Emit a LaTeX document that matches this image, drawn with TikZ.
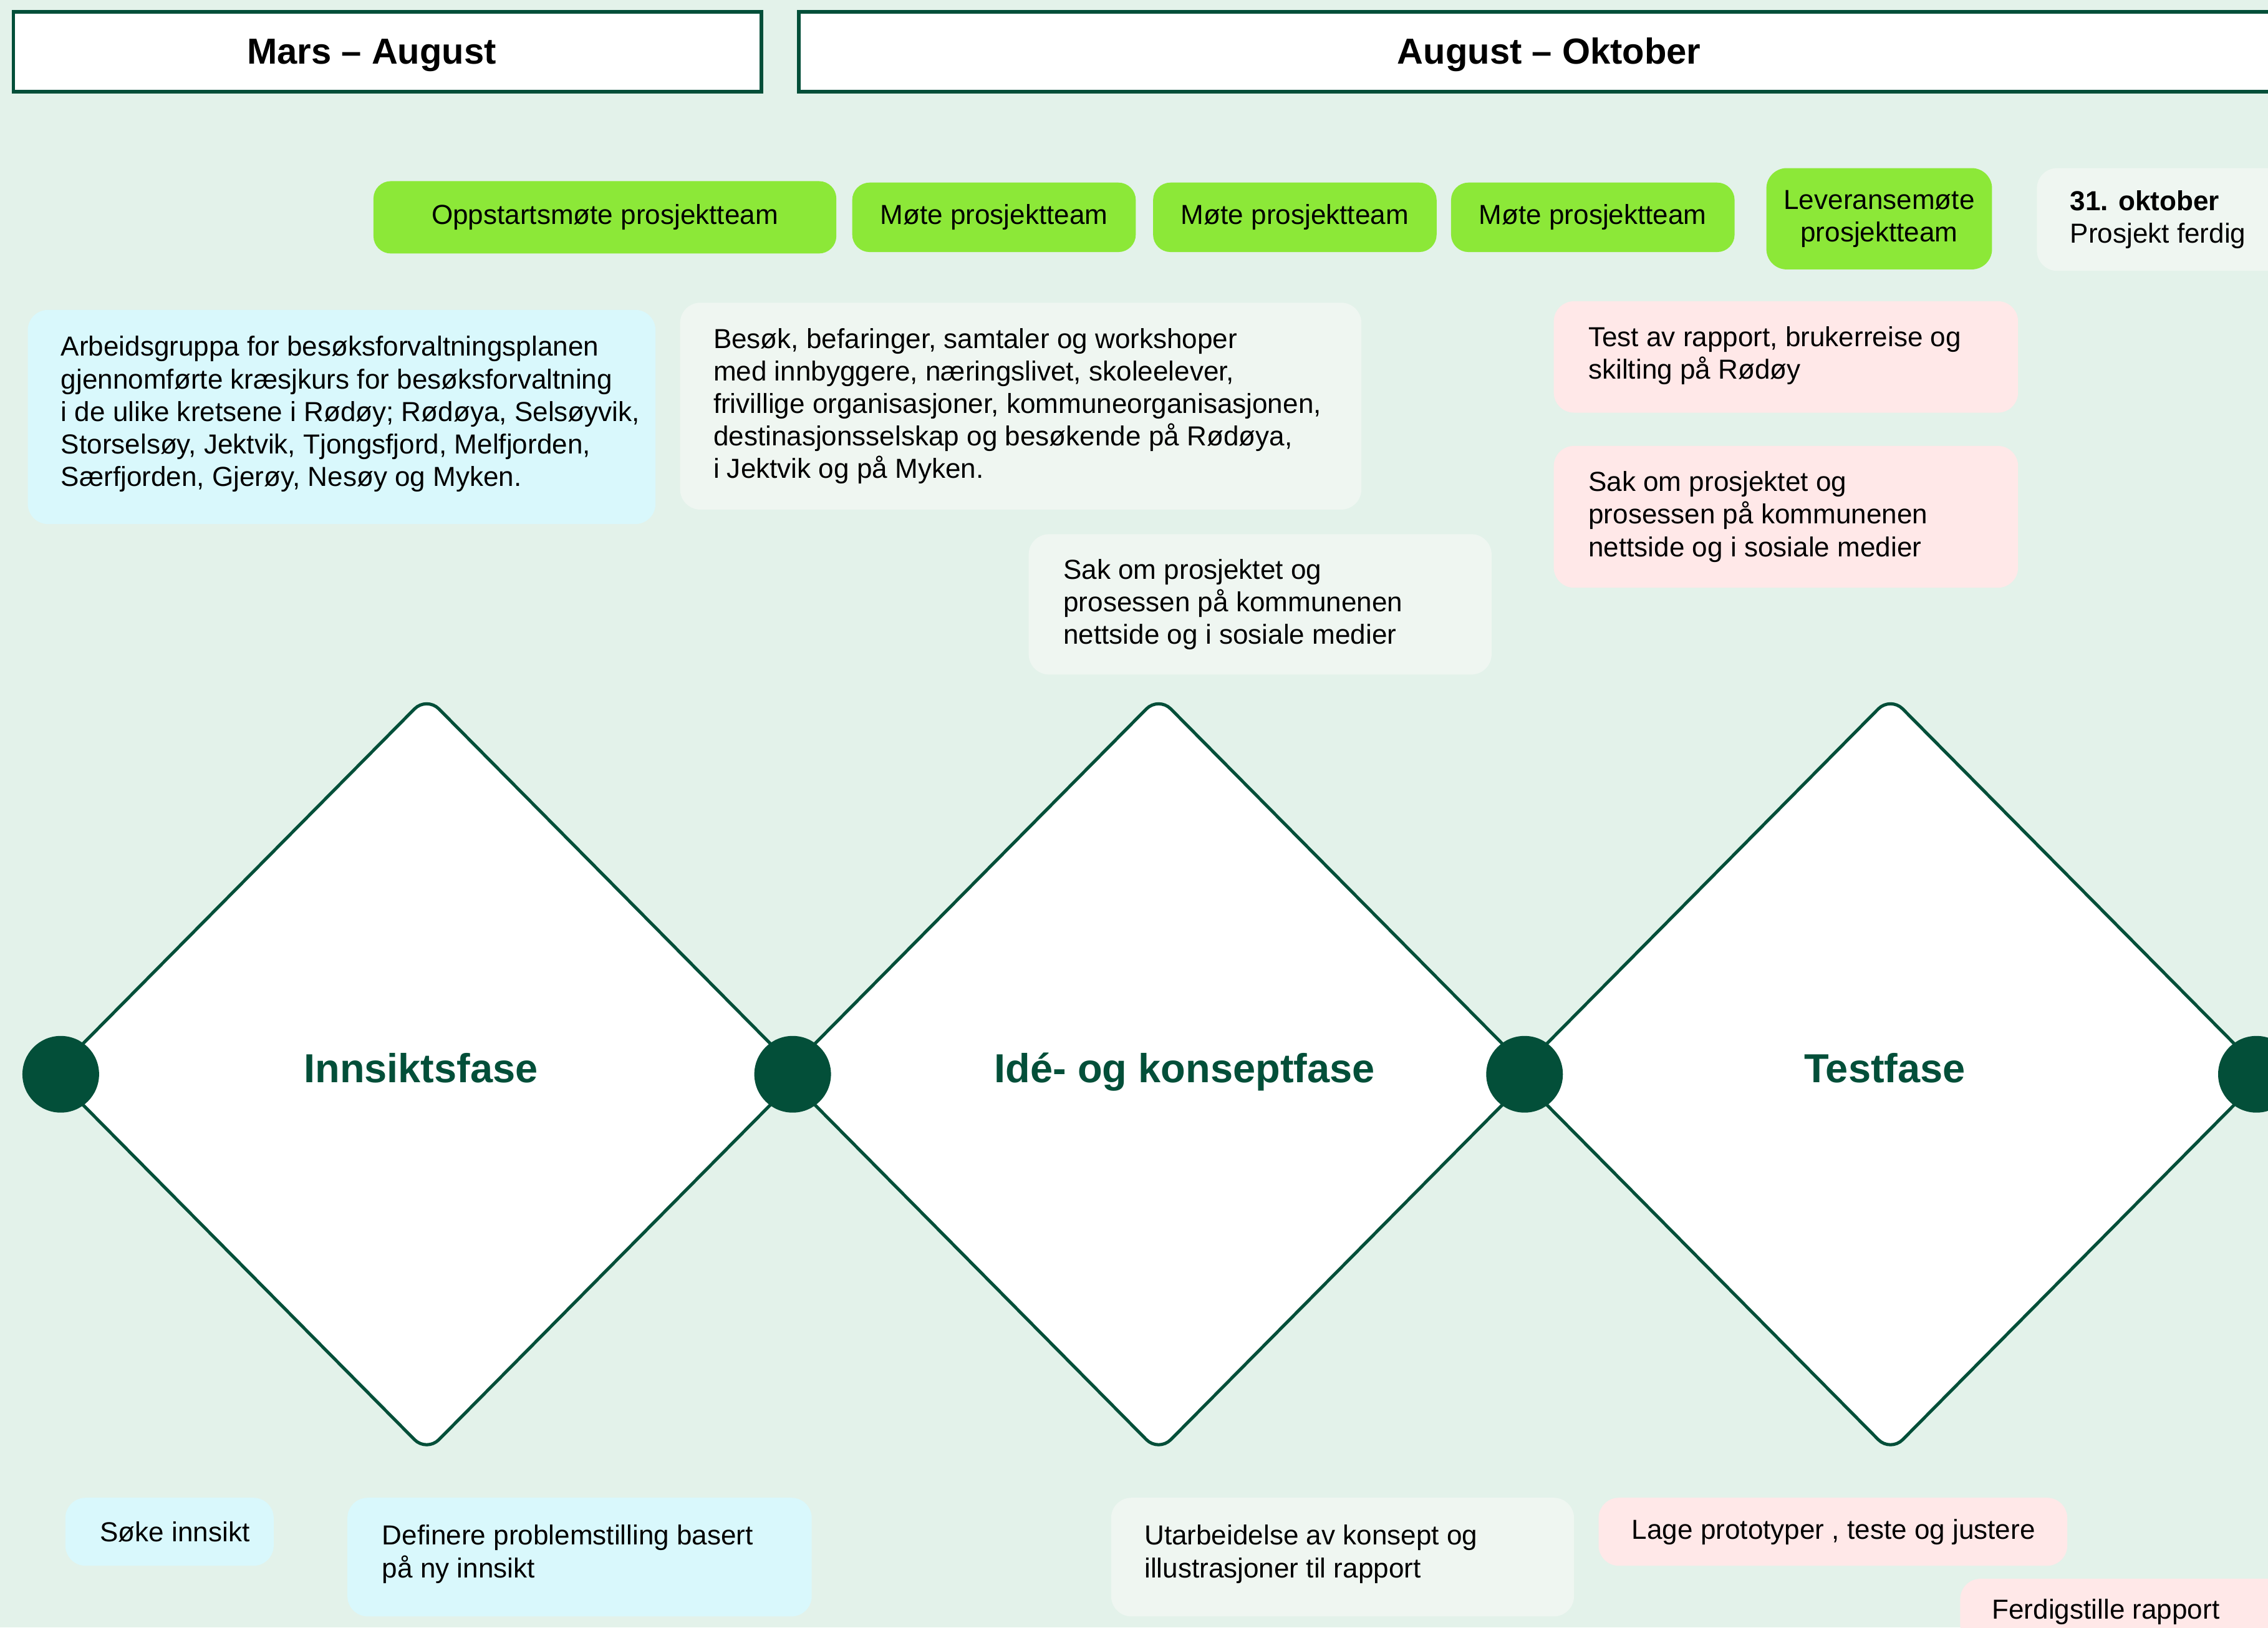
\documentclass[tikz,border=0pt]{standalone}
\usepackage{fontspec}
\setmainfont{Liberation Sans}
\usetikzlibrary{shapes.geometric}
\definecolor{bgmint}{HTML}{E3F2EA}
\definecolor{dkgreen}{HTML}{034F39}
\definecolor{limegr}{HTML}{8CE838}
\definecolor{skyb}{HTML}{D9F8FC}
\definecolor{palebox}{HTML}{EFF6F1}
\definecolor{pinkbox}{HTML}{FFE8E8}
\begin{document}
\begin{tikzpicture}[x=1pt,y=-1pt,
  hdr/.style={draw=dkgreen, line width=2.5pt, fill=white, anchor=north west, inner sep=0pt},
  hdrtxt/.style={inner sep=0pt, anchor=base, font=\bfseries\fontsize{25}{30}\selectfont},
  pill/.style={fill=limegr, rounded corners=12pt, anchor=north west, inner sep=0pt, align=center,
    font=\fontsize{19}{22.5}\selectfont},
  cardbox/.style={rounded corners=14pt, anchor=north west, inner sep=0pt},
  cardtxt/.style={anchor=west, inner sep=0pt, align=left, font=\fontsize{19}{22.5}\selectfont},
  diam/.style={diamond, draw=dkgreen, fill=white, line width=2.2pt, inner sep=0pt,
    minimum width=518pt, minimum height=523pt, rounded corners=12pt},
  dot/.style={circle, fill=dkgreen, inner sep=0pt, minimum size=53pt},
  phase/.style={text=dkgreen, anchor=base, font=\bfseries\fontsize{28}{33}\selectfont, inner sep=0pt}
]
\useasboundingbox (0,0) rectangle (1568,1125);
\clip (0,0) rectangle (1568,1125);
\fill[bgmint] (0,0) rectangle (1568,1125);

% headers
\node[hdr, minimum width=517pt, minimum height=55pt] (h1) at (8,7) {};
\node[hdrtxt] (h1t) at (257,44) {Mars – August};
\node[hdr, minimum width=1040pt, minimum height=55pt] (h2) at (551,7) {};
\node[hdrtxt] (h2t) at (1071,44) {August – Oktober};

% meeting pills
\node[pill, minimum width=320pt, minimum height=50pt] (m1) at (258,125) {Oppstartsmøte prosjektteam};
\node[pill, minimum width=196pt, minimum height=48pt] (m2) at (589,126) {Møte prosjektteam};
\node[pill, minimum width=196pt, minimum height=48pt] (m3) at (797,126) {Møte prosjektteam};
\node[pill, minimum width=196pt, minimum height=48pt] (m4) at (1003,126) {Møte prosjektteam};
\node[pill, rounded corners=14pt, minimum width=156pt, minimum height=70pt] (m5) at (1221,116) {Leveransemøte\\prosjektteam};
\node[cardbox, fill=palebox, minimum width=200pt, minimum height=71pt] (m6) at (1408,116) {};
\node[cardtxt] (m6t) at ([xshift=23pt]m6.west) {\textbf{31. oktober}\\Prosjekt ferdig};

% diamonds
\node[diam] (d1) at (295,742.5) {};
\node[diam] (d2) at (801,742.5) {};
\node[diam] (d3) at (1307,742.5) {};
\node[dot] (p0) at (42,742.5) {};
\node[dot] (p1) at (548,742.5) {};
\node[dot] (p2) at (1054,742.5) {};
\node[dot] (p3) at (1560,742.5) {};
\node[phase] (l1) at (291,748) {Innsiktsfase};
\node[phase] (l2) at (819,748) {Idé- og konseptfase};
\node[phase] (l3) at (1303,748) {Testfase};

% upper cards
\node[cardbox, fill=skyb, minimum width=434pt, minimum height=148pt] (c1) at (19,214) {};
\node[cardtxt] (c1t) at ([xshift=23pt,yshift=2pt]c1.west) {Arbeidsgruppa for besøksforvaltningsplanen\\gjennomførte kræsjkurs for besøksforvaltning\\i de ulike kretsene i Rødøy; Rødøya, Selsøyvik,\\Storselsøy, Jektvik, Tjongsfjord, Melfjorden,\\Særfjorden, Gjerøy, Nesøy og Myken.};
\node[cardbox, fill=palebox, minimum width=471pt, minimum height=143pt] (c2) at (470,209) {};
\node[cardtxt] (c2t) at ([xshift=23pt]c2.west) {Besøk, befaringer, samtaler og workshoper\\med innbyggere, næringslivet, skoleelever,\\frivillige organisasjoner, kommuneorganisasjonen,\\destinasjonsselskap og besøkende på Rødøya,\\i Jektvik og på Myken.};
\node[cardbox, fill=palebox, minimum width=320pt, minimum height=97pt] (c3) at (711,369) {};
\node[cardtxt] (c3t) at ([xshift=24pt]c3.west) {Sak om prosjektet og\\prosessen på kommunenen\\nettside og i sosiale medier};
\node[cardbox, fill=pinkbox, minimum width=321pt, minimum height=77pt] (c4) at (1074,208) {};
\node[cardtxt] (c4t) at ([xshift=24pt,yshift=1pt]c4.west) {Test av rapport, brukerreise og\\skilting på Rødøy};
\node[cardbox, fill=pinkbox, minimum width=321pt, minimum height=98pt] (c5) at (1074,308) {};
\node[cardtxt] (c5t) at ([xshift=24pt]c5.west) {Sak om prosjektet og\\prosessen på kommunenen\\nettside og i sosiale medier};

% lower cards
\node[cardbox, fill=skyb, minimum width=144pt, minimum height=47pt] (b1) at (45,1035) {};
\node[cardtxt] (b1t) at ([xshift=24pt]b1.west) {Søke innsikt};
\node[cardbox, fill=skyb, minimum width=321pt, minimum height=82pt] (b2) at (240,1035) {};
\node[cardtxt] (b2t) at ([xshift=24pt,yshift=2pt]b2.west) {Definere problemstilling basert\\på ny innsikt};
\node[cardbox, fill=palebox, minimum width=320pt, minimum height=82pt] (b3) at (768,1035) {};
\node[cardtxt] (b3t) at ([xshift=23pt,yshift=2pt]b3.west) {Utarbeidelse av konsept og\\illustrasjoner til rapport};
\node[cardbox, fill=pinkbox, minimum width=324pt, minimum height=47pt] (b4) at (1105,1035) {};
\node[cardtxt] (b4t) at ([xshift=23pt]b4.west) {Lage prototyper , teste og justere};
\node[cardbox, fill=pinkbox, minimum width=230pt, minimum height=46pt] (b5) at (1355,1091) {};
\node[cardtxt] (b5t) at ([xshift=22pt]b5.west) {Ferdigstille rapport};
\end{tikzpicture}
\end{document}
